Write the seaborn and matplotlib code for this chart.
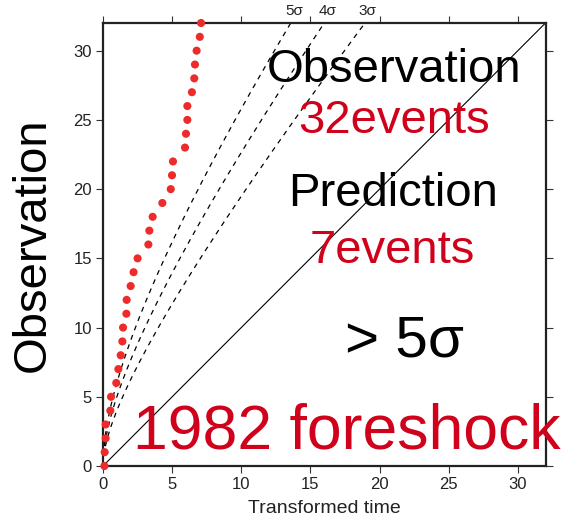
import numpy as np
import pandas as pd
import matplotlib
matplotlib.use("Agg")
import matplotlib.pyplot as plt
import seaborn as sns

# Cumulative number of observed events vs. transformed time
transformed_time = [0.10, 0.12, 0.19, 0.19, 0.53, 0.58, 0.96, 1.11, 1.28, 1.40,
                    1.45, 1.69, 1.71, 2.00, 2.21, 2.50, 3.28, 3.35, 3.59, 4.29,
                    4.90, 4.99, 5.06, 5.93, 6.00, 6.10, 6.10, 6.43, 6.60, 6.65,
                    6.77, 7.00, 7.09]
cumulative_count = list(range(0, 33))

sigma_levels = [5, 4, 3]
sigma_labels = ["5σ", "4σ", "3σ"]
sigma_label_x = [13.85, 16.25, 19.1]

axis_max = 32
tick_values = [0, 5, 10, 15, 20, 25, 30]

sns.set_style("ticks")
plt.rcParams["font.family"] = ["Liberation Sans", "DejaVu Sans"]

fig = plt.figure(figsize=(5.61, 5.19), dpi=100)
ax = fig.add_axes([0.1836, 0.1021, 0.7888, 0.8536])

# Poisson expectation (diagonal) and k-sigma bounds
t = np.linspace(0, axis_max, 400)
curves = [pd.DataFrame({"t": t, "n": t, "kind": "expected"})]
for k in sigma_levels:
    curves.append(pd.DataFrame({"t": t, "n": t + k * np.sqrt(t), "kind": f"{k}sigma"}))
curve_df = pd.concat(curves, ignore_index=True)

sns.lineplot(data=curve_df[curve_df.kind == "expected"], x="t", y="n",
             color="black", linewidth=0.8, ax=ax, legend=False)
for k in sigma_levels:
    sns.lineplot(data=curve_df[curve_df.kind == f"{k}sigma"], x="t", y="n",
                 color="black", linewidth=0.9, ax=ax, legend=False,
                 linestyle=(0, (4, 4)))

events = pd.DataFrame({"time": transformed_time, "count": cumulative_count})
sns.scatterplot(data=events, x="time", y="count", color="#ee2b2b", s=34,
                edgecolor="none", ax=ax, zorder=5, clip_on=False)

ax.set_xlim(0, axis_max)
ax.set_ylim(0, axis_max)
ax.set_xticks(tick_values)
ax.set_yticks(tick_values)
ax.tick_params(axis="both", which="both", direction="out", length=5, width=0.8,
               color="#333333", labelsize=12, labelcolor="#222222",
               top=True, right=True, labeltop=False, labelright=False, pad=3)
for sp in ax.spines.values():
    sp.set_visible(True)
    sp.set_linewidth(1.6)
    sp.set_color("#222222")

ax.set_xlabel("Transformed time", fontsize=14, color="#222222", labelpad=6)
ax.set_ylabel("Observation", fontsize=34, color="black", labelpad=13)

for lab, xpos in zip(sigma_labels, sigma_label_x):
    ax.text(xpos, axis_max + 0.35, lab, fontsize=11, ha="center", va="bottom",
            color="#222222", clip_on=False)

red = "#d0021b"
ax.text(21.04, 27.77, "Observation", fontsize=34, ha="center", va="baseline", color="black")
ax.text(21.04, 24.08, "32events", fontsize=34, ha="center", va="baseline", color=red)
ax.text(20.97, 18.8, "Prediction", fontsize=34, ha="center", va="baseline", color="black")
ax.text(20.9, 14.68, "7events", fontsize=34, ha="center", va="baseline", color=red)
ax.text(21.8, 7.9, "> 5σ", fontsize=42, ha="center", va="baseline", color="black")
ax.text(17.6, 1.28, "1982 foreshock", fontsize=45, ha="center", va="baseline",
        color=red, clip_on=False)

fig.savefig("out.png", dpi=100)
